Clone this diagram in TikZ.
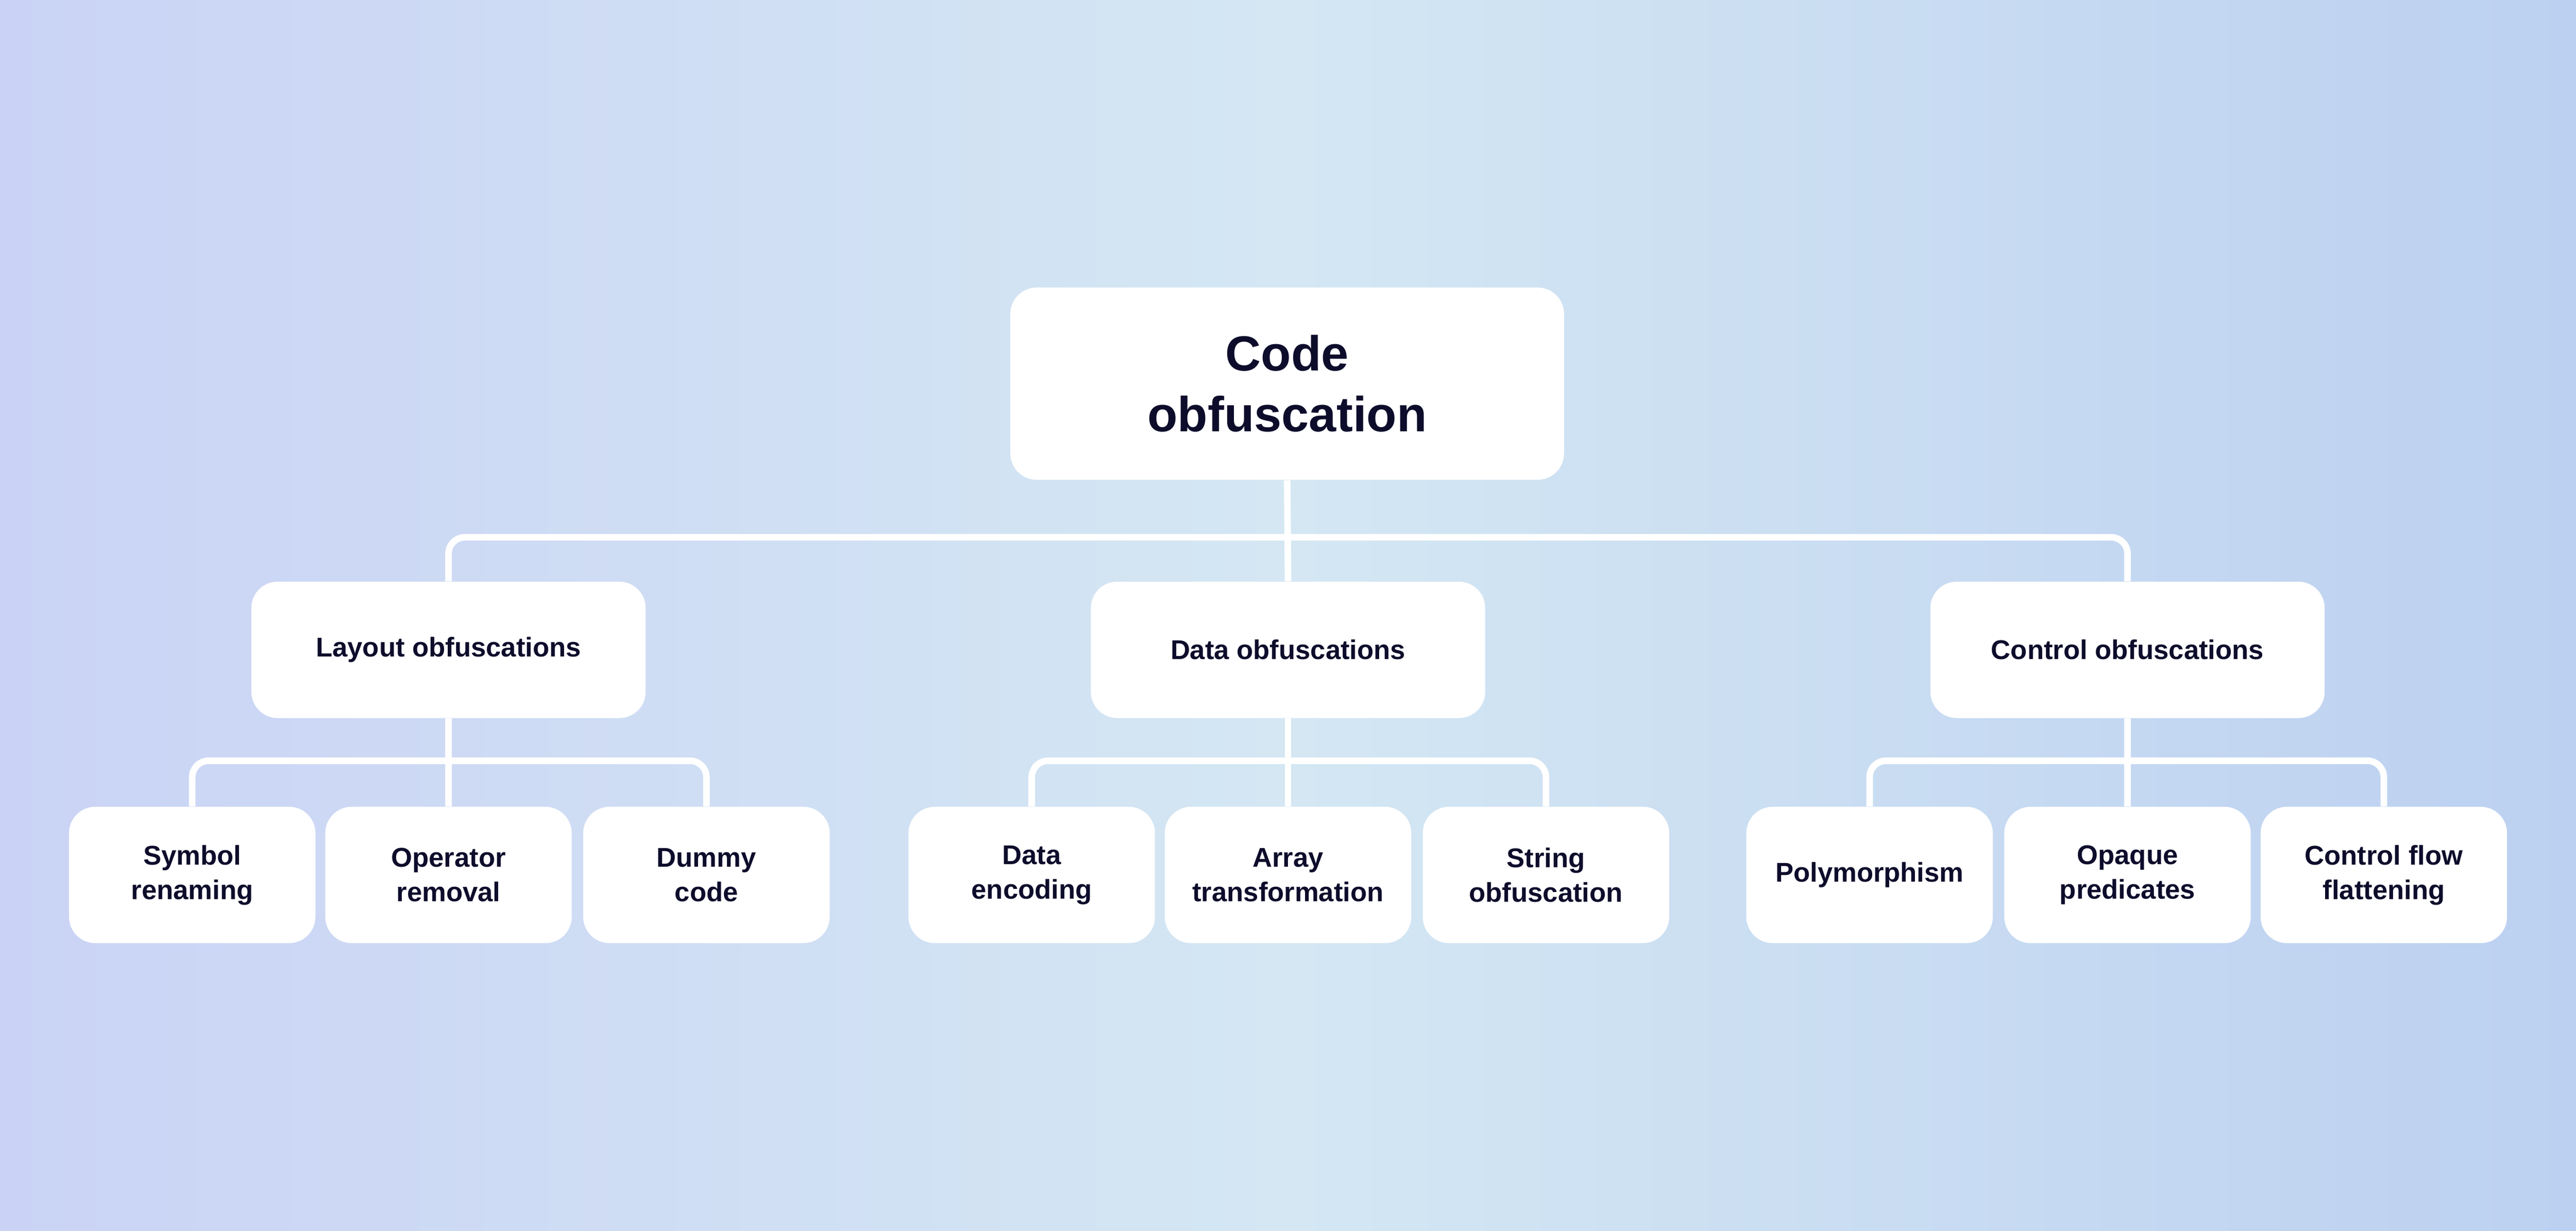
\documentclass[tikz,border=0pt]{standalone}
\usepackage{fontspec}
\setmainfont{Liberation Sans}
\definecolor{txt}{HTML}{0D0C2B}
\definecolor{bgL}{HTML}{CAD3F5}
\definecolor{bgM}{HTML}{D4E7F3}
\definecolor{bgR}{HTML}{BCD0F1}
\begin{document}
\begin{tikzpicture}[x=1pt,y=1pt,
  box/.style={fill=white,rounded corners=16pt,inner sep=0pt,align=center,text=txt,font=\bfseries},
  big/.style={box,minimum width=337pt,minimum height=117pt,font=\bfseries\fontsize{30}{37}\selectfont},
  mid/.style={box,minimum width=240pt,minimum height=83pt,font=\bfseries\fontsize{16.5}{21}\selectfont},
  leaf/.style={box,minimum width=150pt,minimum height=83pt,font=\bfseries\fontsize{16.5}{21}\selectfont},
  conn/.style={draw=white,line width=4pt,rounded corners=10pt}]
\shade[left color=bgL,right color=bgR,middle color=bgM] (0,0) rectangle (1568,-749);
\useasboundingbox (0,0) rectangle (1568,-749);
\node[big] (R) at (783.5,-233.5) {Code\\obfuscation};
\node[mid] (L) at (273,-395.5) {Layout obfuscations};
\node[mid] (D) at (784,-395.5) {Data obfuscations};
\node[mid] (C) at (1295,-395.5) {Control obfuscations};
\node[leaf] (l1) at (117,-532.5) {Symbol\\renaming};
\node[leaf] (l2) at (273,-532.5) {Operator\\removal};
\node[leaf] (l3) at (430,-532.5) {Dummy\\code};
\node[leaf] (d1) at (628,-532.5) {Data\\encoding};
\node[leaf] (d2) at (784,-532.5) {Array\\transformation};
\node[leaf] (d3) at (941,-532.5) {String\\obfuscation};
\node[leaf] (c1) at (1138,-532.5) {Polymorphism};
\node[leaf] (c2) at (1295,-532.5) {Opaque\\predicates};
\node[leaf] (c3) at (1451,-532.5) {Control flow\\flattening};
\coordinate (b1) at (0,-327);
\coordinate (b2) at (0,-463);
\draw[conn] (L.north) |- (b1 -| D.north) -| (C.north);
\draw[conn] (R.south) -- (D.north);
\foreach \p/\a/\b/\c in {L/l1/l2/l3, D/d1/d2/d3, C/c1/c2/c3}{
  \draw[conn] (\a.north) |- (b2 -| \b.north) -| (\c.north);
  \draw[conn] (\p.south) -- (\b.north);
}
\end{tikzpicture}
\end{document}
